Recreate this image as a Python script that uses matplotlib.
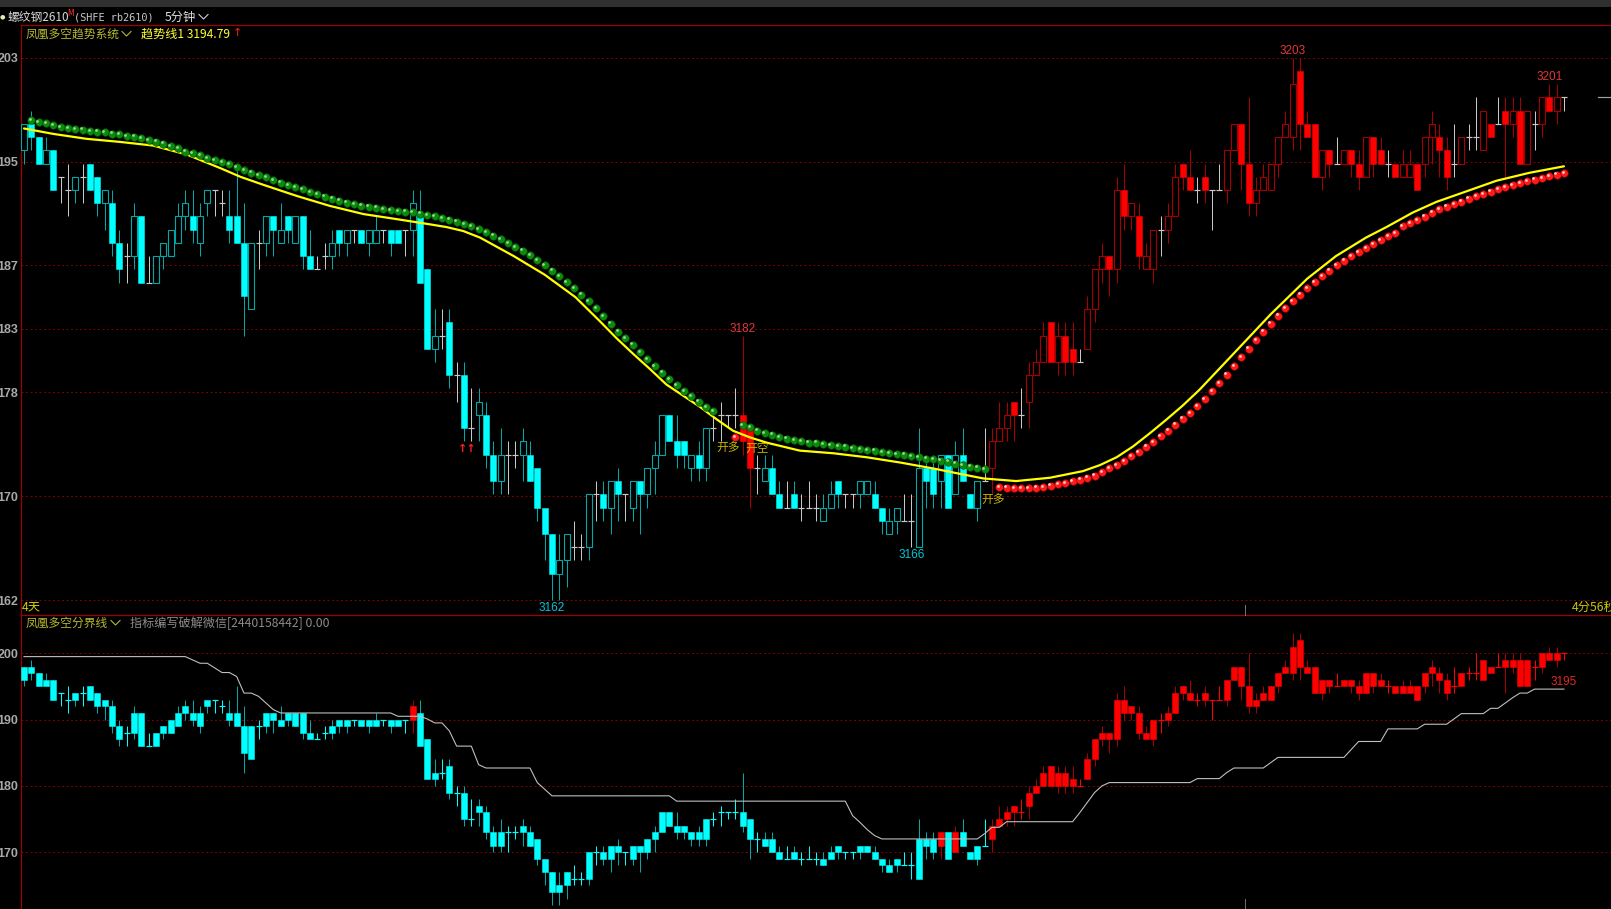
import matplotlib
matplotlib.use('Agg')
import matplotlib.pyplot as plt
from matplotlib.patches import Rectangle
import matplotlib.transforms as mtransforms

W, H = 1611, 909
plt.rcParams['font.family'] = ['Noto Sans CJK SC', 'DejaVu Sans']

# ---------------- data ----------------
opens = [3196,3198,3197,3195,3196,3194,3193,3193,3194,3195,
         3194,3192,3192,3189,3188,3188,3191,3186,3186,3188,
         3188,3189,3191,3191,3189,3192,3193,3192,3191,3191,
         3189,3184,3189,3189,3191,3189,3191,3189,3191,3188,
         3187,3188,3188,3190,3189,3190,3190,3189,3189,3190,
         3190,3190,3190,3190,3191,3187,3181,3182,3183,3179,
         3179,3175,3176,3176,3173,3171,3173,3173,3173,3173,
         3172,3169,3167,3164,3165,3166,3166,3166,3170,3170,
         3169,3171,3170,3169,3171,3170,3172,3173,3176,3174,
         3174,3172,3173,3172,3175,3176,3176,3176,3176,3175,
         3172,3171,3172,3170,3169,3170,3169,3169,3169,3168,
         3169,3171,3170,3170,3170,3170,3170,3169,3167,3168,
         3168,3168,3166,3172,3172,3171,3173,3170,3173,3170,
         3169,3171,3172,3174,3175,3177,3176,3177,3179,3180,
         3183,3180,3182,3181,3180,3181,3184,3187,3188,3187,
         3193,3191,3191,3187,3187,3190,3190,3191,3195,3194,
         3193,3194,3193,3193,3193,3196,3198,3195,3192,3193,
         3193,3195,3197,3197,3202,3198,3198,3194,3196,3195,
         3195,3196,3195,3194,3197,3196,3195,3195,3194,3194,
         3195,3195,3197,3197,3196,3195,3195,3197,3197,3196,
         3198,3198,3199,3198,3199,3195,3198,3198,3200,3199,3200]
highs = [3198,3199,3197,3197,3196,3194,3195,3194,3195,3195,
         3194,3193,3193,3190,3189,3192,3191,3188,3188,3189,
         3190,3192,3193,3193,3192,3193,3193,3193,3193,3195,
         3192,3189,3190,3191,3191,3192,3191,3191,3191,3190,
         3188,3189,3190,3190,3190,3190,3190,3190,3191,3190,
         3190,3190,3190,3193,3193,3187,3184,3184,3184,3180,
         3180,3178,3178,3177,3174,3175,3174,3174,3175,3174,
         3172,3169,3167,3167,3167,3168,3167,3170,3171,3171,
         3171,3172,3170,3171,3171,3172,3174,3176,3176,3176,
         3174,3173,3174,3175,3176,3177,3176,3178,3182,3175,
         3173,3173,3173,3171,3171,3171,3170,3171,3170,3170,
         3171,3171,3170,3170,3171,3171,3171,3169,3169,3169,
         3170,3170,3175,3173,3173,3173,3173,3174,3175,3170,
         3171,3175,3175,3177,3177,3177,3178,3180,3181,3183,
         3183,3183,3183,3183,3181,3185,3187,3189,3188,3194,
         3195,3192,3192,3189,3190,3191,3192,3195,3195,3196,
         3194,3195,3193,3195,3196,3198,3198,3200,3194,3195,
         3195,3197,3199,3203,3203,3199,3198,3196,3196,3197,
         3196,3196,3196,3197,3197,3197,3196,3195,3196,3196,
         3195,3197,3199,3198,3197,3198,3197,3198,3200,3199,
         3198,3200,3200,3200,3200,3199,3199,3200,3201,3201,3200]
lows = [3195,3196,3195,3195,3193,3192,3191,3192,3192,3193,
        3191,3190,3188,3186,3186,3187,3186,3186,3186,3187,
        3188,3189,3190,3189,3188,3191,3191,3191,3189,3189,
        3182,3184,3187,3188,3188,3189,3189,3189,3187,3187,
        3187,3187,3187,3188,3188,3189,3189,3188,3189,3189,
        3188,3189,3188,3188,3186,3181,3180,3181,3178,3177,
        3174,3174,3174,3172,3170,3170,3170,3172,3171,3171,
        3168,3165,3162,3162,3163,3165,3165,3165,3168,3168,
        3167,3168,3168,3168,3167,3169,3170,3173,3174,3172,
        3172,3171,3171,3171,3174,3174,3175,3175,3173,3169,
        3170,3171,3170,3169,3169,3169,3168,3169,3168,3168,
        3169,3169,3169,3169,3169,3170,3169,3167,3167,3167,
        3168,3166,3166,3169,3169,3169,3169,3170,3171,3169,
        3168,3171,3170,3174,3174,3174,3175,3175,3179,3180,
        3180,3179,3179,3179,3180,3181,3183,3186,3185,3186,
        3190,3190,3187,3187,3186,3188,3189,3191,3193,3193,
        3192,3192,3190,3193,3192,3196,3193,3191,3191,3193,
        3193,3194,3197,3196,3196,3197,3194,3193,3194,3195,
        3195,3194,3193,3194,3194,3195,3194,3194,3194,3194,
        3193,3194,3195,3194,3193,3194,3195,3196,3196,3196,
        3197,3198,3194,3197,3195,3195,3196,3197,3199,3198,3199]
closes = [3198,3197,3195,3196,3193,3194,3193,3194,3194,3193,
          3192,3193,3189,3187,3188,3191,3186,3186,3188,3189,
          3190,3191,3192,3190,3191,3193,3193,3192,3190,3189,
          3185,3189,3189,3191,3190,3190,3190,3191,3188,3187,
          3187,3188,3189,3189,3190,3190,3189,3190,3190,3190,
          3189,3189,3190,3192,3186,3181,3182,3182,3179,3179,
          3175,3175,3177,3173,3171,3173,3173,3173,3174,3171,
          3169,3167,3164,3165,3167,3166,3166,3170,3170,3169,
          3171,3170,3170,3171,3170,3172,3173,3176,3174,3173,
          3173,3173,3172,3175,3175,3176,3176,3176,3174,3172,
          3172,3172,3170,3169,3169,3169,3169,3169,3169,3169,
          3170,3170,3170,3170,3171,3171,3169,3168,3168,3169,
          3168,3168,3172,3171,3170,3173,3169,3173,3171,3169,
          3171,3171,3174,3175,3176,3176,3176,3179,3180,3182,
          3180,3182,3180,3180,3180,3184,3187,3188,3187,3193,
          3191,3192,3188,3188,3190,3190,3191,3194,3194,3193,
          3193,3193,3193,3193,3196,3198,3195,3192,3193,3194,
          3195,3197,3198,3201,3198,3197,3194,3196,3195,3195,
          3196,3195,3194,3197,3195,3195,3195,3194,3195,3195,
          3193,3197,3198,3196,3194,3195,3197,3197,3197,3199,
          3197,3198,3198,3199,3195,3199,3198,3200,3199,3200,3200]

# trend state of the upper panel (red = long) : index ranges
top_red_ranges = [(98, 99), (132, 210)]

# yellow trend line (read at candle positions)
line_idx = [0, 4, 8.5, 13, 17.6, 22.2, 26.7, 29.5, 32.6, 37.2, 41.7, 46.3, 50.8, 55.4, 57.6,
            59.9, 62.2, 66.8, 71, 75.2, 78.5, 80.8, 83.1, 85.4, 87.6, 89.9, 92.2, 94.5,
            96.7, 99, 101.3, 105.8, 110.4, 114.9, 119.5, 124, 128.5, 130.8, 135.3, 139.9,
            144.4, 146.7, 149, 151.2, 153.5, 155.8, 158, 160.3, 164.9, 170, 175, 178.9,
            183, 185.8, 189.4, 192.6, 196.2, 200.8, 205.3, 210]
line_val = [3197.65, 3197.24, 3196.87, 3196.64, 3196.36, 3195.68, 3194.67, 3194.0, 3193.4,
            3192.55, 3191.8, 3191.18, 3190.8, 3190.4, 3190.2, 3189.9, 3189.4, 3188.0,
            3186.6, 3184.9, 3183.1, 3181.8, 3180.6, 3179.45, 3178.3, 3177.45, 3176.6,
            3175.65, 3174.8, 3174.3, 3173.9, 3173.3, 3173.1, 3172.8, 3172.4, 3171.95,
            3171.45, 3171.2, 3171.0, 3171.25, 3171.75, 3172.2, 3172.8, 3173.6, 3174.6,
            3175.65, 3176.7, 3177.9, 3180.6, 3183.6, 3186.3, 3188.0, 3189.4, 3190.2,
            3191.3, 3192.1, 3192.8, 3193.7, 3194.3, 3194.79]

# green (short) dots: candles 1-94 and 98-131
green_dots_a = [3198.28, 3198.13, 3198.03, 3197.9, 3197.77, 3197.67, 3197.6, 3197.55, 3197.45, 3197.4,
                3197.35, 3197.27, 3197.22, 3197.07, 3197.02, 3196.92, 3196.77, 3196.64, 3196.51, 3196.29,
                3196.14, 3195.91, 3195.76, 3195.61, 3195.41, 3195.25, 3195.1, 3194.93, 3194.72, 3194.5,
                3194.3, 3194.13, 3193.95, 3193.75, 3193.55, 3193.38, 3193.2, 3193.05, 3192.85, 3192.7,
                3192.5, 3192.35, 3192.2, 3192.05, 3191.95, 3191.8, 3191.75, 3191.65, 3191.55, 3191.48,
                3191.38, 3191.35, 3191.3, 3191.22, 3191.1, 3191.0, 3190.85, 3190.75, 3190.6, 3190.4,
                3190.25, 3190.05, 3189.8, 3189.55, 3189.3, 3189.0, 3188.7, 3188.4, 3188.05, 3187.7,
                3187.3, 3186.9, 3186.5, 3186.05, 3185.6, 3185.1, 3184.6, 3184.05, 3183.45, 3182.9,
                3182.3, 3181.8, 3181.3, 3180.75, 3180.2, 3179.7, 3179.2, 3178.7, 3178.25, 3177.8,
                3177.4, 3177.0, 3176.6, 3176.3]
green_dots_a_start = 1
green_dots_b = [3175.2, 3175.05, 3174.8, 3174.6, 3174.5, 3174.3, 3174.2, 3174.1, 3174.0, 3173.9,
                3173.9, 3173.8, 3173.7, 3173.65, 3173.6, 3173.5, 3173.4, 3173.35, 3173.3, 3173.2,
                3173.1, 3173.05, 3173.0, 3172.9, 3172.8, 3172.7, 3172.65, 3172.55, 3172.45, 3172.3,
                3172.2, 3172.1, 3172.0, 3171.9]
green_dots_b_start = 98
# red (long) dots: candle 97 and 133-210
red_dots_a = [3174.3]
red_dots_a_start = 97
red_dots_b = [3170.55, 3170.5, 3170.45, 3170.45, 3170.45, 3170.5, 3170.55, 3170.65, 3170.75, 3170.85,
              3171.0, 3171.1, 3171.25, 3171.4, 3171.65, 3171.95, 3172.2, 3172.5, 3172.9, 3173.2,
              3173.6, 3173.95, 3174.4, 3174.8, 3175.25, 3175.7, 3176.15, 3176.65, 3177.2, 3177.8,
              3178.4, 3179.05, 3179.7, 3180.35, 3181.0, 3181.65, 3182.3, 3182.9, 3183.5, 3184.05,
              3184.6, 3185.1, 3185.6, 3186.05, 3186.5, 3186.9, 3187.3, 3187.65, 3188.0, 3188.3,
              3188.6, 3188.9, 3189.2, 3189.5, 3189.75, 3190.25, 3190.5, 3190.73, 3190.98, 3191.28,
              3191.55, 3191.75, 3191.95, 3192.13, 3192.33, 3192.53, 3192.7, 3192.88, 3193.08, 3193.23,
              3193.38, 3193.53, 3193.65, 3193.78, 3193.9, 3194.05, 3194.15, 3194.28]
red_dots_b_start = 133

# lower panel divider line: runs of (count, value)
divider_runs = [(23, 3199.5), (1, 3199.0), (2, 3198.5), (1, 3197.8), (2, 3197.1), (1, 3196.5),
                (2, 3194.0), (1, 3193.5), (1, 3192.5), (1, 3191.5), (16, 3191.0), (4, 3190.5),
                (1, 3190.1), (2, 3189.5), (1, 3188.3), (3, 3186.0), (1, 3183.2), (7, 3182.7),
                (1, 3180.5), (1, 3179.5), (17, 3178.5), (24, 3177.7), (1, 3175.5), (1, 3174.5),
                (1, 3173.4), (1, 3172.5), (14, 3172.0), (1, 3172.8), (2, 3173.75), (10, 3174.6),
                (1, 3176.0), (1, 3177.5), (1, 3179.0), (1, 3180.0), (12, 3180.5), (4, 3181.1),
                (1, 3182.0), (5, 3182.7), (1, 3183.5), (10, 3184.3), (1, 3185.5), (4, 3186.7),
                (5, 3188.6), (4, 3189.3), (1, 3190.1), (4, 3190.9), (2, 3191.7), (1, 3192.5),
                (1, 3193.3), (2, 3194.0), (5, 3194.6)]

top_tick_vals = [3203.0, 3195.15, 3187.3, 3182.5, 3177.7, 3169.85, 3162.0]
top_tick_labels = ['203', '195', '187', '183', '178', '170', '162']
bot_tick_vals = [3200, 3190, 3180, 3170]
bot_tick_labels = ['200', '190', '180', '170']

# ---------------- helpers ----------------
n = len(closes)
divider = []
for cnt, v in divider_runs:
    divider += [v] * cnt
divider = divider[:n] + [divider[-1]] * max(0, n - len(divider))

top_red = [False] * n
for a, b in top_red_ranges:
    for k in range(a, b + 1):
        top_red[k] = True

PX = 0.72  # 1 pixel in points at dpi 100
fig = plt.figure(figsize=(W / 100, H / 100), dpi=100, facecolor='black')

def ftext(x, y, s, **kw):
    kw.setdefault('va', 'center')
    return fig.text(x / W, 1 - y / H, s, **kw)

def chevron(x, y, col):
    # small downward chevron at pixel position (x = left edge, y = centre)
    xs = [x, x + 4.5, x + 9]
    ys = [y - 2.5, y + 2, y - 2.5]
    fig.lines.append(plt.Line2D([v / W for v in xs], [1 - v / H for v in ys],
                                transform=fig.transFigure, color=col, lw=1.1 * PX))

# axes geometry (pixels)
L, T1, B1, B2 = 21, 25, 615, 909
x0 = (L - 24) / 7.333
x1 = (W - 24) / 7.333
ax1 = fig.add_axes([L / W, 1 - B1 / H, (W - L) / W, (B1 - T1) / H])
ax2 = fig.add_axes([L / W, 0, (W - L) / W, (B2 - B1) / H])
ax1.set_xlim(x0, x1)
ax2.set_xlim(x0, x1)
ax1.set_ylim(3203 - (B1 - 57.7) / 13.23, 3203 + (57.7 - T1) / 13.23)
ax2.set_ylim(3200 - (B2 - 653.3) / 6.63, 3200 + (653.3 - B1) / 6.63)

GRID = '#7a0000'
BORDER = '#a00000'
for ax, tv, tl in ((ax1, top_tick_vals, top_tick_labels), (ax2, bot_tick_vals, bot_tick_labels)):
    ax.set_facecolor('black')
    for s in ('right', 'bottom'):
        ax.spines[s].set_visible(False)
    ax.spines['left'].set_color(BORDER)
    ax.spines['top'].set_color(BORDER)
    ax.spines['left'].set_linewidth(1.2 * PX)
    ax.spines['top'].set_linewidth(1.2 * PX)
    ax.set_xticks([])
    ax.set_yticks(tv)
    ax.set_yticklabels(tl, fontfamily='Liberation Sans', fontweight='bold', fontsize=9, color='#a8a8a8')
    ax.tick_params(axis='y', length=0, pad=2)
    for v in tv:
        ax.axhline(v, color=GRID, lw=PX, ls=(0, (2, 2.5)), zorder=0)

BW = 0.8
CYAN, CYAN_D = '#00ffff', '#00a8a8'
RED, RED_D = '#ff0000', '#a80000'
GRAY = '#c8c8c8'

def candle(ax, i, o, h, l, c, bright, dark, hollow_ok, doji_col):
    if c == o:
        ax.vlines(i, l, h, color=doji_col, lw=PX, zorder=3)
        ax.hlines(c, i - BW / 2, i + BW / 2, color=doji_col, lw=1.2 * PX, zorder=3)
        return
    ax.vlines(i, l, h, color=dark, lw=PX, zorder=2)
    lo, hi = min(o, c), max(o, c)
    if c > o and hollow_ok:
        ax.add_patch(Rectangle((i - BW / 2, lo), BW, hi - lo, facecolor='black', edgecolor=dark,
                               lw=1.1 * PX, zorder=3))
    else:
        ax.add_patch(Rectangle((i - BW / 2, lo), BW, hi - lo, facecolor=bright, edgecolor=bright,
                               lw=0.5 * PX, zorder=3))

for i in range(n):
    if top_red[i]:
        candle(ax1, i, opens[i], highs[i], lows[i], closes[i], RED, RED_D, True, GRAY)
    else:
        candle(ax1, i, opens[i], highs[i], lows[i], closes[i], CYAN, CYAN_D, True, GRAY)

for i in range(n):
    if closes[i] > divider[i]:
        candle(ax2, i, opens[i], highs[i], lows[i], closes[i], RED, RED_D, False, RED)
    else:
        candle(ax2, i, opens[i], highs[i], lows[i], closes[i], CYAN, CYAN_D, False, CYAN)

# yellow trend line
ax1.plot(line_idx, line_val, color='#ffff00', lw=1.6, zorder=5, solid_capstyle='round',
         solid_joinstyle='round')

# dots with highlight
hl = mtransforms.offset_copy(ax1.transData, fig=fig, x=-1.0, y=1.0, units='points')
def dots(start, vals, col, edge, light):
    xs = list(range(start, start + len(vals)))
    ax1.scatter(xs, vals, s=30, color=col, edgecolors=edge, linewidths=0.4, zorder=6)
    ax1.scatter(xs, vals, s=4, color=light, linewidths=0, zorder=7, transform=hl)

dots(green_dots_a_start, green_dots_a, '#0a8c0a', '#045004', '#9ad29a')
dots(green_dots_b_start, green_dots_b, '#0a8c0a', '#045004', '#9ad29a')
dots(red_dots_a_start, red_dots_a, '#ff1a1a', '#a00000', '#ffc8c8')
dots(red_dots_b_start, red_dots_b, '#ff1a1a', '#a00000', '#ffc8c8')

# lower divider line
ax2.plot(range(n), divider, color='#c0c0c0', lw=1.1 * PX, zorder=5)

# ---------------- annotations ----------------
def hi_label(i):
    ax1.annotate(f'{highs[i]}', (i, highs[i]), xytext=(0, 0.5), textcoords='offset points',
                 ha='center', va='bottom', color='#e03838', fontsize=8.5, fontfamily='Liberation Sans')

def lo_label(i):
    ax1.annotate(f'{lows[i]}', (i, lows[i]), xytext=(0, -1), textcoords='offset points',
                 ha='center', va='top', color='#00c8d8', fontsize=8.5, fontfamily='Liberation Sans')

hi_label(max(range(n), key=lambda k: highs[k]))
hi_label(208)
hi_label(98)
lo_label(72)
lo_label(121)

ax1.text(96, 3173.5, '开多', ha='center', va='center', color='#c8b400', fontsize=8.5, zorder=8)
ax1.text(100, 3173.5, '开空', ha='center', va='center', color='#c8b400', fontsize=8.5, zorder=8)
ax1.text(132.1, 3169.55, '开多', ha='center', va='center', color='#c8b400', fontsize=8.5, zorder=8)
ax1.text(60.5, 3173.4, '↑↑', ha='center', va='center', color='#ff2020', fontsize=8,
         fontweight='bold', fontfamily='DejaVu Sans', zorder=8)

ax2.text(208.2, divider[-1] + 1.0, f'{divider[-1]:.0f}', ha='left', va='center',
         color='#e02828', fontsize=8.5, fontfamily='Liberation Sans')

# current price marker on right
ax1.plot([214.6, 216.5], [closes[-1], closes[-1]], color='#a0a0a0', lw=1.2 * PX, zorder=5,
         clip_on=False)

# ---------------- header texts ----------------
fig.patches.append(Rectangle((0, 1 - 7 / H), 1, 7 / H, transform=fig.transFigure,
                             facecolor='#303030', edgecolor='none'))
ftext(0, 17, '●', color='#e8e8b0', fontsize=4.5, fontfamily='DejaVu Sans')
ftext(8, 17, '螺纹钢2610', color='#d8d8d8', fontsize=8.5)
ftext(67.5, 13.5, 'M', color='#ff3030', fontsize=5.5, fontfamily='DejaVu Sans')
ftext(74, 17, '(SHFE rb2610)', color='#c8c8c8', fontsize=7.4, fontfamily='DejaVu Sans Mono')
ftext(165, 17, '5分钟', color='#e0e0e0', fontsize=8.8)
chevron(199, 17, '#d0d0d0')

ftext(26, 34, '凤凰多空趋势系统', color='#b8b830', fontsize=8.5)
chevron(122, 34, '#b8b830')
ftext(141, 34, '趋势线1 3194.79', color='#ffff30', fontsize=8.7)
ftext(233, 33, '↑', color='#ff2020', fontsize=8.0, fontfamily='DejaVu Sans')

ftext(22, 607, '4天', color='#d0d000', fontsize=8.8)
ftext(1572, 607, '4分56秒', color='#c8c800', fontsize=8.8)

ftext(26, 623, '凤凰多空分界线', color='#b8b830', fontsize=8.5)
chevron(111, 623, '#b8b830')
ftext(130, 623, '指标编写破解微信[2440158442] 0.00', color='#8c8c8c', fontsize=8.75)

# small day separators
for y0, y1 in ((605, 615), (899, 909)):
    fig.lines.append(plt.Line2D([1245 / W, 1245 / W], [1 - y0 / H, 1 - y1 / H],
                                transform=fig.transFigure, color='#707070', lw=PX))

fig.savefig('out.png', dpi=100, facecolor='black')
